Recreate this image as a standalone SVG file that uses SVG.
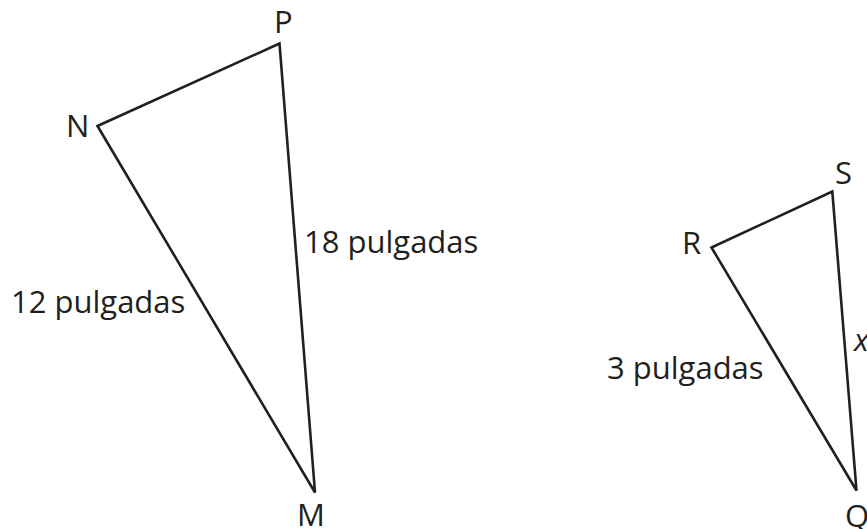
<svg xmlns="http://www.w3.org/2000/svg" width="867" height="529" viewBox="0 0 867 529">
<style>
.edge{fill:none;stroke:#231f20;stroke-width:2.6;stroke-linejoin:miter}
.lbl{font-family:"Open Sans","Liberation Sans",sans-serif;font-size:31px;fill:#231f20}
.var{font-style:italic}
</style>
<rect width="867" height="529" fill="#ffffff"/>
<g id="connectors">
<polygon id="tri-NPM" class="edge" points="97.5,126 279.5,43.5 315,492.5"/>
<polygon id="tri-RSQ" class="edge" points="711.5,247.5 832.3,191.5 856.5,490.5"/>
</g>
<g id="node-P"><text class="lbl" x="274" y="33">P</text></g>
<g id="node-N"><text class="lbl" x="66" y="137">N</text></g>
<g id="node-M"><text class="lbl" x="297" y="526">M</text></g>
<g id="node-R"><text class="lbl" x="682" y="254">R</text></g>
<g id="node-S"><text class="lbl" x="835" y="184">S</text></g>
<g id="node-Q"><text class="lbl" x="845" y="527">Q</text></g>
<g id="label-PM"><text class="lbl" x="304" y="253">18 pulgadas</text></g>
<g id="label-NM"><text class="lbl" x="11" y="313">12 pulgadas</text></g>
<g id="label-RQ"><text class="lbl" x="607" y="379">3 pulgadas</text></g>
<g id="label-SQ"><text class="lbl var" x="854" y="351">x</text></g>
</svg>
